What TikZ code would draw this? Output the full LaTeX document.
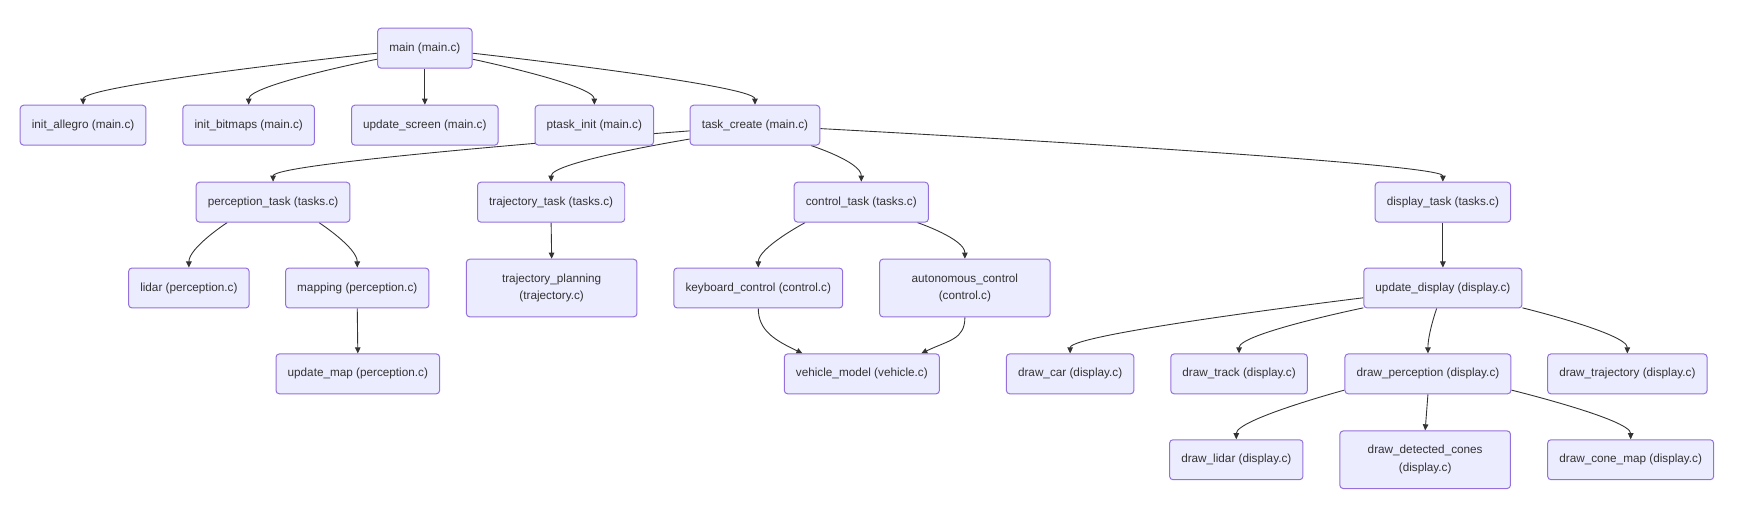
\documentclass[tikz,border=0pt]{standalone}
\usepackage{fontspec}
\setmainfont{Liberation Sans}
\usetikzlibrary{arrows.meta}
\definecolor{boxfill}{HTML}{ECECFF}
\definecolor{boxline}{HTML}{9370DB}
\definecolor{callline}{HTML}{333333}
\pgfdeclarelayer{bg}
\pgfsetlayers{bg,main}
\tikzset{
  fn/.style={draw=boxline, fill=boxfill, line width=0.9pt, rounded corners=3pt,
    minimum height=36pt, inner xsep=10.5pt, inner ysep=0pt, text=callline,
    font=\fontsize{10.6}{16}\selectfont},
  fnwide/.style={fn, minimum height=52pt, text width=133pt, align=center},
  call/.style={draw=callline, line width=0.8pt, -{Triangle[length=5.5pt,width=5pt]}}
}
\begin{document}
\begin{tikzpicture}[x=1pt,y=-1pt]
  \useasboundingbox (0,0) rectangle (1568,462);
  \node[fn] (main) at (383.5,43.5) {main (main.c)};
  \node[fn] (initA) at (75,113) {init\_allegro (main.c)};
  \node[fn] (initB) at (224.5,113) {init\_bitmaps (main.c)};
  \node[fn] (updS) at (383.5,113) {update\_screen (main.c)};
  \node[fn] (ptask) at (536.5,113) {ptask\_init (main.c)};
  \node[fn] (tcreate) at (681.5,113) {task\_create (main.c)};
  \node[fn] (percT) at (246.5,182.5) {perception\_task (tasks.c)};
  \node[fn] (trajT) at (497.5,182.5) {trajectory\_task (tasks.c)};
  \node[fn] (ctrlT) at (777.5,182.5) {control\_task (tasks.c)};
  \node[fn] (dispT) at (1302.5,182.5) {display\_task (tasks.c)};
  \node[fn] (lidar) at (170.5,260) {lidar (perception.c)};
  \node[fn] (mapping) at (322.5,260) {mapping (perception.c)};
  \node[fnwide] (trajP) at (498,260) {trajectory\_planning\\(trajectory.c)};
  \node[fn] (kbd) at (684.5,260) {keyboard\_control (control.c)};
  \node[fnwide] (auto) at (871,260) {autonomous\_control\\(control.c)};
  \node[fn] (updD) at (1302.5,260) {update\_display (display.c)};
  \node[fn] (updM) at (323,337.5) {update\_map (perception.c)};
  \node[fn] (veh) at (778,337.5) {vehicle\_model (vehicle.c)};
  \node[fn] (car) at (966,337.5) {draw\_car (display.c)};
  \node[fn] (track) at (1118.5,337.5) {draw\_track (display.c)};
  \node[fn] (dperc) at (1289,337.5) {draw\_perception (display.c)};
  \node[fn] (dtraj) at (1469,337.5) {draw\_trajectory (display.c)};
  \node[fn] (dlidar) at (1116,415) {draw\_lidar (display.c)};
  \node[fnwide] (dcones) at (1286.5,415) {draw\_detected\_cones\\(display.c)};
  \node[fn] (dcmap) at (1472,415) {draw\_cone\_map (display.c)};
  \begin{pgfonlayer}{bg}
  \draw[call] (main.186) .. controls +(0,0) and +(0,-18) .. (initA.north);
  \draw[call] (main.193) .. controls +(0,0) and +(0,-18) .. (initB.north);
  \draw[call] (main.south) -- (updS.north);
  \draw[call] (main.347) .. controls +(0,0) and +(0,-18) .. (ptask.north);
  \draw[call] (main.354) .. controls +(0,0) and +(0,-18) .. (tcreate.north);
  \draw[call] (tcreate.185) .. controls +(0,0) and +(0,-18) .. (percT.north);
  \draw[call] (tcreate.192) .. controls +(0,0) and +(0,-18) .. (trajT.north);
  \draw[call] (tcreate.340) .. controls +(0,0) and +(0,-18) .. (ctrlT.north);
  \draw[call] (tcreate.357) .. controls +(0,0) and +(0,-18) .. (dispT.north);
  \draw[call] (percT.204) .. controls +(0,0) and +(0,-18) .. (lidar.north);
  \draw[call] (percT.336) .. controls +(0,0) and +(0,-18) .. (mapping.north);
  \draw[call] (mapping.south) -- (updM.north);
  \draw[call] (trajT.south) -- (trajP.north);
  \draw[call] (ctrlT.200) .. controls +(0,0) and +(0,-18) .. (kbd.north);
  \draw[call] (ctrlT.340) .. controls +(0,0) and +(0,-18) .. (auto.north);
  \draw[call] (kbd.south) .. controls +(0,20) and +(-25,-12) .. (veh.161);
  \draw[call] (auto.south) .. controls +(0,20) and +(25,-12) .. (veh.19);
  \draw[call] (dispT.south) -- (updD.north);
  \draw[call] (updD.187) .. controls +(0,0) and +(0,-18) .. (car.north);
  \draw[call] (updD.194) .. controls +(0,0) and +(0,-18) .. (track.north);
  \draw[call] (updD.253) .. controls +(0,0) and +(0,-18) .. (dperc.north);
  \draw[call] (updD.346) .. controls +(0,0) and +(0,-18) .. (dtraj.north);
  \draw[call] (dperc.191) .. controls +(0,0) and +(0,-18) .. (dlidar.north);
  \draw[call] (dperc.south) -- (dcones.north);
  \draw[call] (dperc.349) .. controls +(0,0) and +(0,-18) .. (dcmap.north);
  \end{pgfonlayer}
\end{tikzpicture}
\end{document}
